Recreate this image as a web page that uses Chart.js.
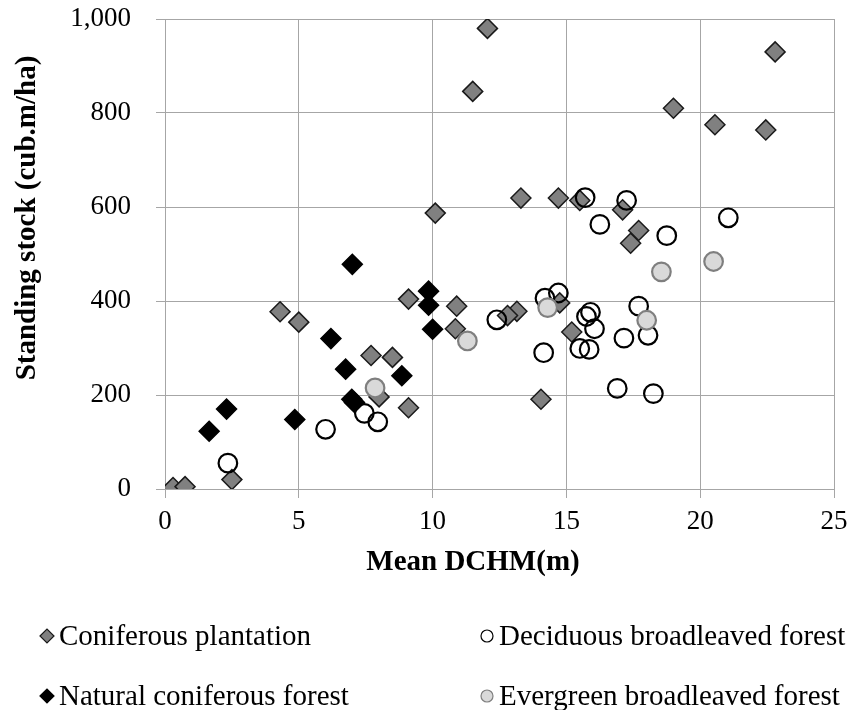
<!DOCTYPE html>
<html>
<head>
<meta charset="utf-8">
<script src="https://cdn.jsdelivr.net/npm/chart.js@4"></script>
<style>
  body { margin: 0; background: #fff; }
  #wrap { width: 856px; height: 710px; }
</style>
</head>
<body>
<div id="wrap"><canvas id="chart" width="856" height="710"></canvas></div>
<script>
const xTitle = "Mean DCHM(m)";
const yTitle = "Standing stock (cub.m/ha)";

const xTicks = [0, 5, 10, 15, 20, 25];
const yTicks = [0, 200, 400, 600, 800, 1000];

// Coniferous plantation
const conifX = [12.05, 11.5, 10.1, 22.8, 19.0, 20.55, 22.45, 13.3, 14.7, 15.5, 17.1, 17.7, 17.4, 9.1, 10.9,
  4.3, 5.0, 10.85, 7.7, 8.5, 8.0, 9.1, 2.5, 0.3, 0.75, 14.75, 13.15, 12.8, 15.2, 14.05];
const conifY = [980, 846, 587, 930, 810, 775, 764, 619, 619, 614, 594, 550, 523, 404, 389,
  377, 355, 341, 284, 280, 196, 173, 20, 3, 5, 396, 378, 369, 334, 191];

// Deciduous broadleaved forest
const decidX = [15.7, 17.25, 16.25, 18.75, 21.05, 12.4, 7.45, 7.95, 6.0, 2.35, 14.7, 14.2, 15.9, 15.75,
  16.05, 15.5, 15.85, 14.15, 17.7, 18.05, 17.15, 16.9, 18.25];
const decidY = [620, 614, 563, 539, 577, 360, 161, 143, 127, 55, 417, 406, 376, 367,
  341, 299, 297, 290, 389, 327, 321, 214, 203];

// Natural coniferous forest
const naturalX = [7.0, 9.85, 9.85, 10.0, 6.2, 6.75, 8.85, 6.98, 7.08, 2.3, 1.65, 4.85];
const naturalY = [478, 421, 391, 340, 320, 255, 241, 191, 184, 170, 123, 148];

// Evergreen broadleaved forest
const everX = [20.5, 18.55, 14.3, 18.0, 11.3, 7.85];
const everY = [484, 462, 386, 359, 315, 215];

const seriesNames = ["Coniferous plantation", "Deciduous broadleaved forest",
  "Natural coniferous forest", "Evergreen broadleaved forest"];

function pts(xs, ys) {
  return xs.map((x, i) => ({ x: x, y: ys[i] }));
}

const serif = "'Liberation Serif', 'Times New Roman', serif";
const gridColor = "#a6a6a6";

// legend slots: two columns, two rows
const legendSlots = [
  { x: 47, y: 636 }, { x: 487, y: 636 },
  { x: 47, y: 696 }, { x: 487, y: 696 }
];

const extras = {
  id: "extras",
  afterDraw(chart) {
    const ctx = chart.ctx;
    ctx.save();
    ctx.fillStyle = "#000";
    ctx.textAlign = "center";
    ctx.textBaseline = "middle";
    ctx.font = "bold 29px " + serif;
    ctx.fillText(xTitle, 473, 563);
    ctx.save();
    ctx.translate(28, 218);
    ctx.rotate(-Math.PI / 2);
    ctx.fillText(yTitle, 0, 0);
    ctx.restore();

    // legend
    chart.data.datasets.forEach((ds, i) => {
      const s = legendSlots[i];
      ctx.fillStyle = ds.backgroundColor;
      ctx.strokeStyle = ds.borderColor;
      ctx.lineWidth = 1.2;
      Chart.helpers.drawPoint(ctx, {
        pointStyle: ds.pointStyle,
        radius: ds.pointStyle === "rectRot" ? 7 : 6,
        rotation: 0,
        borderWidth: 1.2
      }, s.x, s.y);
      ctx.fillStyle = "#000";
      ctx.textAlign = "left";
      ctx.font = "29px " + serif;
      ctx.fillText(ds.label, s.x + 12, s.y + 1);
    });
    ctx.restore();
  }
};

const ctx = document.getElementById("chart").getContext("2d");
new Chart(ctx, {
  type: "scatter",
  data: {
    datasets: [
      {
        label: seriesNames[0],
        data: pts(conifX, conifY),
        pointStyle: "rectRot",
        pointRadius: 10,
        backgroundColor: "#808080",
        borderColor: "#1a1a1a",
        pointBorderWidth: 1.5,
        order: 4
      },
      {
        label: seriesNames[1],
        data: pts(decidX, decidY),
        pointStyle: "circle",
        pointRadius: 9.3,
        backgroundColor: "rgba(255,255,255,0)",
        borderColor: "#000",
        pointBorderWidth: 2.2,
        order: 3
      },
      {
        label: seriesNames[2],
        data: pts(naturalX, naturalY),
        pointStyle: "rectRot",
        pointRadius: 10,
        backgroundColor: "#000",
        borderColor: "#000",
        pointBorderWidth: 1.5,
        order: 2
      },
      {
        label: seriesNames[3],
        data: pts(everX, everY),
        pointStyle: "circle",
        pointRadius: 9.3,
        backgroundColor: "#d9d9d9",
        borderColor: "#7f7f7f",
        pointBorderWidth: 2.2,
        order: 1
      }
    ]
  },
  options: {
    responsive: false,
    animation: false,
    devicePixelRatio: 1,
    layout: { padding: { top: 19, right: 22, bottom: 0, left: 0 } },
    plugins: {
      legend: { display: false },
      tooltip: { enabled: false }
    },
    scales: {
      x: {
        type: "linear",
        min: xTicks[0],
        max: xTicks[xTicks.length - 1],
        afterBuildTicks: (s) => { s.ticks = xTicks.map(v => ({ value: v })); },
        afterFit: (s) => { s.height = 221; s.paddingLeft = 0; s.paddingRight = 0; },
        ticks: {
          color: "#000",
          padding: 8,
          font: { family: serif, size: 27 }
        },
        grid: { color: gridColor, tickLength: 9 },
        border: { color: gridColor }
      },
      y: {
        min: yTicks[0],
        max: yTicks[yTicks.length - 1],
        afterBuildTicks: (s) => { s.ticks = yTicks.map(v => ({ value: v })); },
        afterFit: (s) => { s.width = 165; s.paddingTop = 0; s.paddingBottom = 0; },
        ticks: {
          color: "#000",
          padding: 25,
          font: { family: serif, size: 27 }
        },
        grid: { color: gridColor, tickLength: 9 },
        border: { color: gridColor }
      }
    }
  },
  plugins: [extras]
});
</script>
</body>
</html>
